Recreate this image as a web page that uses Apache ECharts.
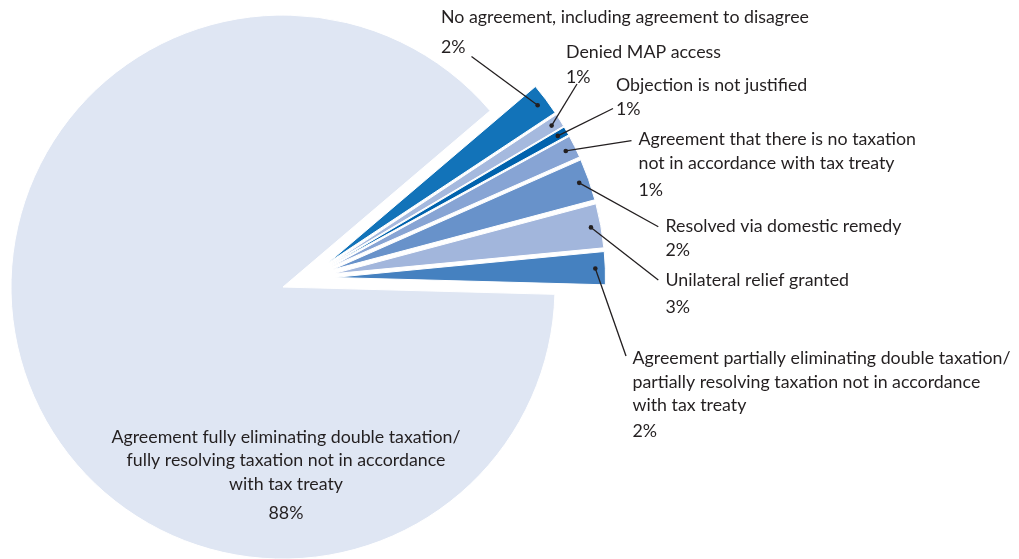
<!DOCTYPE html>
<html><head><meta charset="utf-8">
<script src="https://cdn.jsdelivr.net/npm/echarts@6/dist/echarts.min.js"></script>
<style>html,body{margin:0;padding:0;background:#fff}#c{width:1019px;height:559px}</style>
</head><body><div id="c"></div>
<script>
// ---- data ----
const categories = [
  'No agreement, including agreement to disagree',
  'Denied MAP access',
  'Objection is not justified',
  'Agreement that there is no taxation\nnot in accordance with tax treaty',
  'Resolved via domestic remedy',
  'Unilateral relief granted',
  'Agreement partially eliminating double taxation/\npartially resolving taxation not in accordance\nwith tax treaty',
  'Agreement fully eliminating double taxation/\nfully resolving taxation not in accordance\nwith tax treaty'
];
const shares = [1.92, 0.80, 0.53, 1.35, 2.48, 2.62, 1.95, 88.35];
const sliceColors = ['#1273b9', '#a5b9de', '#0062ad', '#87a4d4', '#6892ca', '#a2b6dc', '#4581c0', '#dfe6f3'];

// ---- layout / style ----
const CENTER = [307.5, 278.4];
const RADIUS = 272;
const EXPLODE = 26;
const START = 40.4;
const FONT = 'Lato';
const FS = 17.8;
const TEXT = '#231f20';
const NAME_LH = 23.5;
const labelGeom = [
  {x: 441, cy: 17.5, pctLH: 37, end: [471.5, 56.5]},
  {x: 566, cy: 52, pctLH: 27, end: [577, 84]},
  {x: 616, cy: 85, pctLH: 25, end: [613, 108.5]},
  {x: 638.5, cy: 139.7, pctLH: 30, end: [631.5, 140.7]},
  {x: 665.5, cy: 226.2, pctLH: 24, end: [658.3, 226.7]},
  {x: 665.5, cy: 280.3, pctLH: 31, end: [658.3, 280]},
  {x: 632.5, cy: 358.3, pctLH: 29, end: [626, 356]},
  {x: 286, cy: 437, pctLH: 36, align: 'center'}
];

const chart = echarts.init(document.getElementById('c'), null, {renderer: 'canvas'});
const anchors = [];
const rich = { n: {fontFamily: FONT, fontSize: FS, lineHeight: NAME_LH, color: TEXT} };
labelGeom.forEach((g, i) => {
  rich['p' + i] = {fontFamily: FONT, fontSize: FS, lineHeight: g.pctLH, color: TEXT};
});

const option = {
  animation: false,
  series: [
    {
      type: 'pie', center: CENTER, radius: RADIUS, startAngle: START, clockwise: true,
      selectedMode: 'multiple', selectedOffset: EXPLODE, silent: true,
      label: {show: false}, labelLine: {show: false},
      emphasis: {disabled: true},
      itemStyle: {borderColor: '#fff', borderWidth: 1},
      select: {itemStyle: {borderColor: '#fff', borderWidth: 1}, label: {show: false}, labelLine: {show: false}},
      data: categories.map((name, i) => ({
        name, value: shares[i], selected: true,
        itemStyle: {color: sliceColors[i]},
        select: {itemStyle: {color: sliceColors[i]}}
      }))
    },
    {
      type: 'pie', center: CENTER, radius: RADIUS + EXPLODE - 10, startAngle: START, clockwise: true,
      silent: true, z: 3, avoidLabelOverlap: false,
      itemStyle: {color: 'rgba(0,0,0,0)', borderWidth: 0},
      emphasis: {disabled: true},
      label: {
        show: true, position: 'outside',
        formatter: p => `{n|${p.name}}\n{p${p.dataIndex}|${Math.round(p.percent)}%}`,
        rich
      },
      labelLine: {show: true, lineStyle: {color: TEXT, width: 1.3}},
      labelLayout: function (params) {
        const g = labelGeom[params.dataIndex];
        const res = {x: g.x, y: g.cy - NAME_LH / 2, align: g.align || 'left', verticalAlign: 'top'};
        if (g.end && params.labelLinePoints) {
          const p0 = params.labelLinePoints[0];
          anchors[params.dataIndex] = [p0[0], p0[1]];
          res.labelLinePoints = [[p0[0], p0[1]], g.end, g.end];
        }
        return res;
      },
      data: categories.map((name, i) => ({name, value: shares[i], labelLine: {show: !!labelGeom[i].end}}))
    }
  ]
};
chart.setOption(option);
chart.setOption({
  graphic: {
    elements: anchors.filter(Boolean).map(p => ({
      type: 'circle', z: 100, silent: true,
      shape: {cx: p[0], cy: p[1], r: 2.3},
      style: {fill: TEXT}
    }))
  }
});
</script>
</body></html>
